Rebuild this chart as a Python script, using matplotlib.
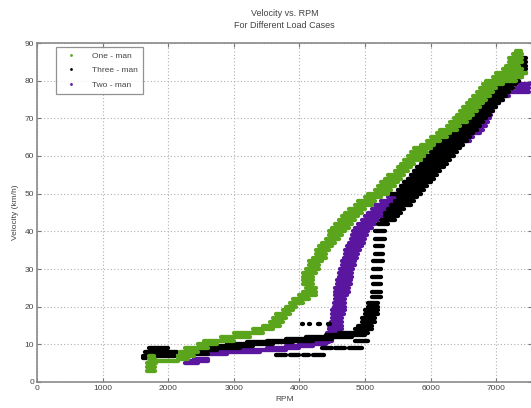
import numpy as np
import matplotlib
matplotlib.use("Agg")
import matplotlib.pyplot as plt
from matplotlib.lines import Line2D

plt.rcParams['font.family'] = ['Liberation Sans', 'DejaVu Sans']

# ---- data ----
# Each series is a dense cloud of samples; for every velocity level (km/h)
# the samples span an RPM range [lo, hi].
one_vel = [3, 4, 5, 6, 7, 5.7, 6, 7, 8, 9, 10, 11, 12, 13, 14, 15, 16, 17, 18, 19,
           20, 21, 22, 23, 24, 25, 26, 27, 28, 29, 30, 31, 32, 33, 34, 35, 36, 37,
           38, 39, 40, 41, 42, 43, 44, 45, 46, 47, 48, 49, 50, 51, 52, 53, 54, 55,
           56, 57, 58, 59, 60, 61, 62, 63, 64, 65, 66, 67, 68, 69, 70, 71, 72, 73,
           74, 75, 76, 77, 78, 79, 80, 81, 82, 83, 84, 85, 86, 87, 88]
one_lo = [1680, 1680, 1680, 1700, 1700, 1850, 2150, 2150, 2180, 2250, 2450, 2550,
          2800, 3000, 3300, 3450, 3550, 3600, 3650, 3750, 3800, 3850, 3900, 4000,
          4050, 4100, 4050, 4050, 4050, 4050, 4100, 4150, 4150, 4200, 4250, 4250,
          4300, 4350, 4400, 4450, 4450, 4500, 4550, 4600, 4650, 4700, 4750, 4850,
          4900, 5000, 5050, 5150, 5200, 5250, 5300, 5350, 5450, 5500, 5550, 5600,
          5650, 5700, 5750, 5850, 5950, 6000, 6100, 6150, 6250, 6300, 6350, 6400,
          6450, 6500, 6550, 6600, 6650, 6700, 6750, 6800, 6850, 6950, 7000, 7100,
          7150, 7200, 7200, 7250, 7300]
one_hi = [1800, 1800, 1820, 1800, 1780, 2150, 2300, 2400, 2450, 2600, 2750, 3000,
          3250, 3450, 3600, 3700, 3750, 3800, 3850, 3900, 3950, 4050, 4150, 4250,
          4250, 4250, 4200, 4200, 4200, 4250, 4300, 4300, 4350, 4400, 4400, 4450,
          4500, 4550, 4600, 4650, 4700, 4750, 4800, 4850, 4900, 4950, 5000, 5100,
          5150, 5250, 5350, 5400, 5450, 5500, 5550, 5600, 5650, 5700, 5750, 5850,
          5900, 5950, 6000, 6050, 6150, 6250, 6300, 6400, 6450, 6550, 6600, 6650,
          6700, 6750, 6800, 6850, 6900, 6950, 7000, 7100, 7300, 7400, 7450, 7400,
          7350, 7400, 7400, 7400, 7380]

three_vel = [6.5, 7, 8, 9, 7.5, 8.5, 9, 9.5, 10, 10.5, 11, 11.5, 12, 12.5, 13,
             7.2, 7.2, 7.2, 7.2, 9, 9, 9, 11, 15.5, 15.5, 15.5, 15.5,
             14, 15, 16, 17, 18, 19, 20, 21, 22.5, 24, 26, 28, 30, 32, 34, 36, 38,
             40, 42, 43, 44, 45, 46, 47, 48, 49, 50, 51, 52, 53, 54, 55, 56, 57,
             58, 59, 60, 61, 62, 63, 64, 65, 66, 67, 68, 69, 70, 71, 72, 73, 74,
             75, 76, 77, 78, 79, 80, 81, 82, 83, 84, 85, 86]
three_lo = [1620, 1620, 1650, 1700, 2350, 2300, 2600, 2700, 2900, 3200, 3500, 3800,
            4100, 4400, 4600,
            3650, 3850, 4050, 4200, 4350, 4550, 4750, 4850, 4040, 4140, 4290, 4440,
            4850, 4900, 4950, 4950, 5000, 5000, 5050, 5050, 5100, 5100, 5120, 5100,
            5120, 5120, 5150, 5150, 5150, 5150, 5200, 5250, 5300, 5300, 5350, 5400,
            5450, 5500, 5400, 5500, 5550, 5600, 5650, 5700, 5750, 5800, 5850, 5900,
            5950, 6000, 6050, 6100, 6150, 6200, 6250, 6300, 6350, 6400, 6450, 6500,
            6550, 6600, 6650, 6700, 6750, 6800, 6900, 6950, 7000, 7100, 7150, 7200,
            7250, 7300, 7350]
three_hi = [1800, 2100, 2130, 2000, 2600, 2750, 3100, 3300, 3600, 3900, 4200, 4500,
            4800, 5000, 5050,
            3800, 4000, 4150, 4370, 4500, 4700, 4950, 5050, 4060, 4160, 4310, 4460,
            5100, 5100, 5150, 5150, 5200, 5200, 5200, 5200, 5250, 5250, 5250, 5250,
            5250, 5270, 5280, 5280, 5300, 5300, 5350, 5450, 5500, 5550, 5600, 5700,
            5750, 5800, 5850, 5900, 5950, 6000, 6050, 6100, 6150, 6200, 6250, 6300,
            6350, 6400, 6450, 6500, 6550, 6600, 6650, 6700, 6750, 6800, 6850, 6900,
            6950, 7000, 7050, 7100, 7150, 7200, 7250, 7300, 7350, 7400, 7450, 7450,
            7450, 7450, 7450]

two_vel = [5, 5.5, 6, 7.5, 8, 8.5, 9, 9.5, 10, 10.5, 11, 12, 13, 14, 15, 16, 17,
           18, 19, 20, 21, 22, 23, 24, 25, 26, 27, 28, 29, 30, 31, 32, 33, 34, 35,
           36, 37, 38, 39, 40, 41, 42, 43, 44, 45, 46, 47, 48, 49, 50, 51, 52, 53,
           54, 55, 56, 57, 58, 59, 60, 61, 62, 63, 64, 65, 66, 67, 68, 69, 70, 71,
           72, 73, 74, 75, 76, 77, 78, 79]
two_lo = [2250, 2300, 2400, 2600, 2700, 3100, 3500, 3800, 4000, 4150, 4300, 4400,
          4420, 4450, 4450, 4480, 4500, 4500, 4500, 4520, 4520, 4550, 4550, 4550,
          4550, 4580, 4580, 4600, 4600, 4620, 4650, 4650, 4680, 4700, 4700, 4720,
          4750, 4780, 4800, 4820, 4850, 4900, 4950, 5000, 5050, 5100, 5150, 5250,
          5350, 5450, 5500, 5550, 5600, 5650, 5700, 5750, 5800, 5850, 5900, 5950,
          6000, 6050, 6100, 6200, 6250, 6350, 6400, 6450, 6500, 6550, 6600, 6650,
          6700, 6750, 6800, 6900, 7200, 7300, 7350]
two_hi = [2450, 2600, 2600, 2900, 3400, 3800, 4000, 4200, 4400, 4450, 4500, 4550,
          4600, 4650, 4650, 4650, 4650, 4680, 4700, 4700, 4700, 4700, 4720, 4750,
          4750, 4780, 4780, 4800, 4800, 4820, 4850, 4850, 4880, 4900, 4920, 4950,
          4980, 5000, 5030, 5050, 5100, 5150, 5200, 5300, 5350, 5450, 5550, 5650,
          5750, 5800, 5850, 5900, 5950, 6000, 6000, 6050, 6100, 6150, 6200, 6250,
          6300, 6400, 6500, 6600, 6650, 6750, 6800, 6850, 6870, 6900, 6920, 6950,
          7000, 7050, 7100, 7200, 7500, 7500, 7520]

series_names = ['One - man', 'Three - man', 'Two - man']
series_colors = ['#5aa51c', '#000000', '#5a169e']

x_ticks = [0, 1000, 2000, 3000, 4000, 5000, 6000, 7000]
y_ticks = [0, 10, 20, 30, 40, 50, 60, 70, 80, 90]

# ---- figure ----
W, H = 531, 408
fig = plt.figure(figsize=(W / 100, H / 100), dpi=100)
left_px, right_px, top_px, bot_px = 37, 532, 43, 382
ax = fig.add_axes([left_px / W, 1 - bot_px / H, (right_px - left_px) / W,
                   (bot_px - top_px) / H])

lw = 3.1
ax.hlines(two_vel, two_lo, two_hi, colors=series_colors[2], linewidth=lw,
          capstyle='round', zorder=2)
ax.hlines(three_vel, three_lo, three_hi, colors=series_colors[1], linewidth=lw,
          capstyle='round', zorder=3)
ax.hlines(one_vel, one_lo, one_hi, colors=series_colors[0], linewidth=lw,
          capstyle='round', zorder=4)

ax.set_xlim(0, (right_px - left_px) / 65.6 * 1000)
ax.set_ylim(0, 90)
ax.set_xticks(x_ticks)
ax.set_yticks(y_ticks)
ax.set_xticklabels([str(v) for v in x_ticks])
ax.set_yticklabels([str(v) for v in y_ticks])

tc = '#444444'
ax.tick_params(direction='in', length=3, width=0.8, colors='#777777',
               labelcolor=tc, labelsize=6, top=True, right=True, pad=2)
for s in ax.spines.values():
    s.set_color('#8a8a8a')
    s.set_linewidth(1.2)

ax.grid(True, color='#b0b0b0', linestyle=(0, (1, 2)), linewidth=0.8)
ax.set_axisbelow(True)

ax.set_xlabel('RPM', fontsize=6, color=tc, labelpad=3)
ax.set_ylabel('Velocity (km/h)', fontsize=6, color=tc, labelpad=4)
ax.set_title('Velocity vs. RPM\nFor Different Load Cases', fontsize=6.5, color=tc,
             pad=11, linespacing=1.35)

handles = [Line2D([], [], ls='none', marker='o', ms=2, color=c, mec='none')
           for c in series_colors]
leg = ax.legend(handles, series_names, loc='upper left',
                bbox_to_anchor=((56 - left_px) / (right_px - left_px),
                                (bot_px - 47) / (bot_px - top_px)),
                borderaxespad=0, fontsize=6, frameon=True, fancybox=False,
                handlelength=2.5, handletextpad=1.2, labelspacing=0.8,
                borderpad=0.6, labelcolor=tc)
leg.get_frame().set_edgecolor('#777777')
leg.get_frame().set_linewidth(0.9)

fig.savefig('out.png', dpi=100)
